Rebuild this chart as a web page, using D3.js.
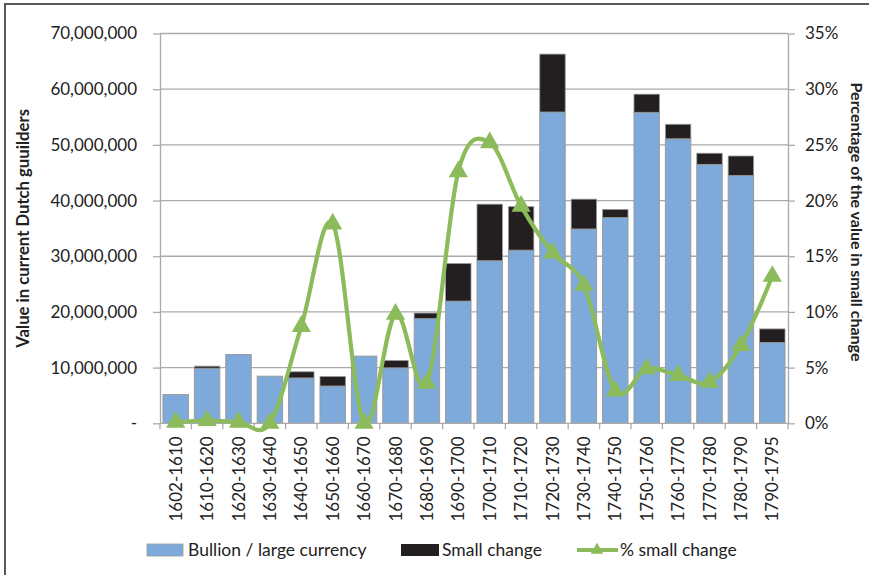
<!DOCTYPE html>
<html>
<head>
<meta charset="utf-8">
<script src="https://cdn.jsdelivr.net/npm/d3@7"></script>
<style>
  body { margin: 0; background: #fff; }
  svg { display: block; font-family: Lato, "Open Sans", sans-serif; }
</style>
</head>
<body>
<div id="chart"></div>
<script>
// Periods on the x axis
var categories = ["1602-1610", "1610-1620", "1620-1630", "1630-1640", "1640-1650",
  "1650-1660", "1660-1670", "1670-1680", "1680-1690", "1690-1700", "1700-1710",
  "1710-1720", "1720-1730", "1730-1740", "1740-1750", "1750-1760", "1760-1770",
  "1770-1780", "1780-1790", "1790-1795"];

// Values in guilders
var bullion = [5160000, 9900000, 12350000, 8460000, 8150000, 6700000, 12060000, 9960000,
  18800000, 21950000, 29200000, 31100000, 55900000, 34900000, 36950000, 55850000,
  51100000, 46500000, 44500000, 14500000];
var smallChange = [0, 360000, 0, 0, 1100000, 1700000, 0, 1320000, 1000000, 6750000,
  10150000, 7800000, 10400000, 5350000, 1450000, 3250000, 2600000, 2000000, 3500000, 2450000];

// Share of the value in small change
var pctSmall = [0.001, 0.0025, 0.001, 0, 0.087, 0.179, 0, 0.098, 0.036, 0.226, 0.252,
  0.195, 0.153, 0.124, 0.029, 0.049, 0.043, 0.037, 0.070, 0.132];

var leftTicks = [0, 10000000, 20000000, 30000000, 40000000, 50000000, 60000000, 70000000];
var rightTicks = [0, 0.05, 0.10, 0.15, 0.20, 0.25, 0.30, 0.35];

var width = 869, height = 575;
var plotLeft = 160, plotRight = 788, plotTop = 33.5, plotBottom = 423.3;
var blue = "#7eaadb", dark = "#231f20", green = "#8cbb5c", grid = "#aaaaaa", textCol = "#222";

var svg = d3.select("#chart").append("svg").attr("width", width).attr("height", height);

// frame round the chart
svg.append("rect").attr("x", 5).attr("y", 4).attr("width", 900).attr("height", 600)
  .attr("fill", "none").attr("stroke", "#595959").attr("stroke-width", 2);

var x = d3.scaleBand().domain(categories).range([plotLeft, plotRight]).paddingInner(0.19).paddingOuter(0.095);
var y = d3.scaleLinear().domain([0, 70000000]).range([plotBottom, plotTop]);
var y2 = d3.scaleLinear().domain([0, 0.35]).range([plotBottom, plotTop]);

// gridlines
svg.append("g").selectAll("line").data(leftTicks.slice(1)).enter().append("line")
  .attr("x1", plotLeft).attr("x2", plotRight)
  .attr("y1", function(d) { return y(d); }).attr("y2", function(d) { return y(d); })
  .attr("stroke", grid).attr("stroke-width", 1.3);

// left axis
var fmt = d3.format(",");
var leftAxis = svg.append("g").attr("transform", "translate(" + plotLeft + ",0)")
  .call(d3.axisLeft(y).tickValues(leftTicks).tickSizeInner(7).tickSizeOuter(0).tickPadding(16)
    .tickFormat(function(d) { return d === 0 ? "-" : fmt(d); }));
leftAxis.selectAll("text").attr("font-size", 17).attr("fill", textCol).style("font-family", "Lato");
leftAxis.selectAll("line, path").attr("stroke", grid).attr("stroke-width", 1.3);

// right axis
var rightAxis = svg.append("g").attr("transform", "translate(" + plotRight + ",0)")
  .call(d3.axisRight(y2).tickValues(rightTicks).tickSizeInner(7).tickSizeOuter(0).tickPadding(10)
    .tickFormat(d3.format(".0%")));
rightAxis.selectAll("text").attr("font-size", 17).attr("fill", textCol).style("font-family", "Lato");
rightAxis.selectAll("line, path").attr("stroke", grid).attr("stroke-width", 1.3);

// bars: bullion then small change on top
var bars = svg.append("g").selectAll("g").data(categories).enter().append("g");
bars.append("rect")
  .attr("x", function(d) { return x(d); })
  .attr("width", x.bandwidth())
  .attr("y", function(d, i) { return y(bullion[i]); })
  .attr("height", function(d, i) { return y(0) - y(bullion[i]); })
  .attr("fill", blue).attr("stroke", "#9a9a9a").attr("stroke-width", 1);
bars.append("rect")
  .attr("x", function(d) { return x(d); })
  .attr("width", x.bandwidth())
  .attr("y", function(d, i) { return y(bullion[i] + smallChange[i]); })
  .attr("height", function(d, i) { return y(bullion[i]) - y(bullion[i] + smallChange[i]); })
  .attr("fill", dark).attr("stroke", "#9a9a9a").attr("stroke-width", 0.8)
  .style("display", function(d, i) { return smallChange[i] > 0 ? null : "none"; });

// bottom axis: line and ticks at band boundaries
var bounds = d3.range(categories.length + 1).map(function(i) {
  return plotLeft + i * (plotRight - plotLeft) / categories.length;
});
svg.append("line").attr("x1", plotLeft).attr("x2", plotRight).attr("y1", plotBottom).attr("y2", plotBottom)
  .attr("stroke", grid).attr("stroke-width", 1.3);
svg.append("g").selectAll("line").data(bounds).enter().append("line")
  .attr("x1", function(d) { return d; }).attr("x2", function(d) { return d; })
  .attr("y1", plotBottom).attr("y2", plotBottom + 6)
  .attr("stroke", grid).attr("stroke-width", 1.3);

svg.append("g").selectAll("text").data(categories).enter().append("text")
  .attr("transform", function(d) {
    return "translate(" + (x(d) + x.bandwidth() / 2 + 6) + "," + (plotBottom + 13) + ") rotate(-90)";
  })
  .attr("text-anchor", "end").attr("font-size", 17).attr("fill", textCol)
  .text(function(d) { return d; });

// percentage line, smoothed
var line = d3.line()
  .x(function(d, i) { return x(categories[i]) + x.bandwidth() / 2; })
  .y(function(d) { return y2(d); })
  .curve(d3.curveCardinal.tension(0));
svg.append("path").datum(pctSmall).attr("d", line)
  .attr("fill", "none").attr("stroke", green).attr("stroke-width", 4.2)
  .attr("stroke-linejoin", "round").attr("stroke-linecap", "round");

var tri = d3.symbol().type(d3.symbolTriangle).size(160);
svg.append("g").selectAll("path").data(pctSmall).enter().append("path")
  .attr("d", tri)
  .attr("transform", function(d, i) {
    return "translate(" + (x(categories[i]) + x.bandwidth() / 2) + "," + y2(d) + ")";
  })
  .attr("fill", green);

// axis titles
svg.append("text")
  .attr("transform", "translate(29," + ((plotTop + plotBottom) / 2) + ") rotate(-90)")
  .attr("text-anchor", "middle").attr("font-size", 16.7).attr("font-weight", "bold").attr("fill", textCol)
  .text("Value in current Dutch guuilders");
svg.append("text")
  .attr("transform", "translate(851,222) rotate(90)")
  .attr("text-anchor", "middle").attr("font-size", 16).attr("font-weight", "bold").attr("fill", textCol)
  .text("Percentage of the value in small change");

// legend
var legendY = 550;
var legend = svg.append("g");
legend.append("rect").attr("x", 147).attr("y", legendY - 6).attr("width", 36).attr("height", 12)
  .attr("fill", blue).attr("stroke", "#9a9a9a").attr("stroke-width", 0.8);
legend.append("text").attr("x", 188).attr("y", legendY).attr("dy", "0.35em")
  .attr("font-size", 17.5).attr("fill", textCol).text("Bullion / large currency");
legend.append("rect").attr("x", 401).attr("y", legendY - 6).attr("width", 38).attr("height", 12)
  .attr("fill", dark);
legend.append("text").attr("x", 442).attr("y", legendY).attr("dy", "0.35em")
  .attr("font-size", 17.5).attr("fill", textCol).text("Small change");
legend.append("line").attr("x1", 577).attr("x2", 618).attr("y1", legendY).attr("y2", legendY)
  .attr("stroke", green).attr("stroke-width", 4.2);
legend.append("path").attr("d", d3.symbol().type(d3.symbolTriangle).size(70))
  .attr("transform", "translate(597," + legendY + ")").attr("fill", green);
legend.append("text").attr("x", 620).attr("y", legendY).attr("dy", "0.35em")
  .attr("font-size", 17.5).attr("fill", textCol).text("% small change");
</script>
</body>
</html>
